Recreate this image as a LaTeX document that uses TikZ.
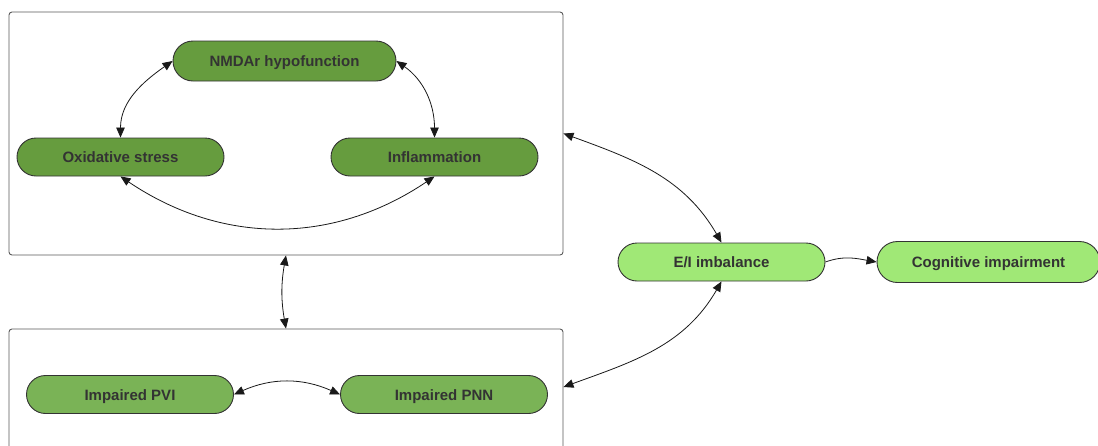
\documentclass[tikz,border=0pt]{standalone}
\usepackage{fontspec}
\setmainfont{Liberation Sans}
\usetikzlibrary{arrows.meta,shapes.misc}

\definecolor{darkleaf}{HTML}{669C3E}
\definecolor{midleaf}{HTML}{7AB356}
\definecolor{lightleaf}{HTML}{A0E876}
\definecolor{inktext}{HTML}{333333}

\begin{document}
\begin{tikzpicture}[x=1pt, y=1pt]
  \useasboundingbox (0, 0) rectangle (1098, -445);
  \clip (0, 0) rectangle (1098, -445);  % Rahmen unten abschneiden.

  \tikzstyle{pill}=[rounded rectangle, draw=inktext, line width=0.9pt, minimum width=207pt, minimum height=38pt,
                    inner sep=0pt, text height=11pt, text depth=0pt, text=inktext, font=\fontsize{15}{18}\selectfont\bfseries]
  \tikzstyle{dark}=[fill=darkleaf]
  \tikzstyle{mid}=[fill=midleaf]
  \tikzstyle{light}=[fill=lightleaf]
  \tikzstyle{panel}=[draw=black!65, line width=0.9pt, rounded corners=3pt, minimum width=554pt, inner sep=0pt]
  \tikzstyle{link}=[draw=black!90, line width=0.8pt, {Triangle[length=10pt,width=8.5pt]}-{Triangle[length=10pt,width=8.5pt]}]

  \node[panel, minimum height=243pt] (upper) at (286, -133.5) {};
  \node[panel, minimum height=132pt] (lower) at (286, -395) {};

  \node[pill, dark, minimum width=223pt, minimum height=40pt] (nmda) at (284.5, -61) {NMDAr hypofunction};
  \node[pill, dark] (oxid) at (120.5, -157) {Oxidative stress};
  \node[pill, dark] (infl) at (434.5, -157) {Inflammation};
  \node[pill, mid]  (pvi)  at (130, -394.5) {Impaired PVI};
  \node[pill, mid]  (pnn)  at (444, -394.5) {Impaired PNN};
  \node[pill, light] (ei)  at (721.5, -262) {E/I imbalance};
  \node[pill, light, minimum width=223pt, minimum height=41pt] (cog) at (988.5, -262) {Cognitive impairment};

  \path[link] (oxid.north) to[out=90, in=215] (nmda.west);
  \path[link] (nmda.east) to[out=-35, in=90] (infl.north);
  \path[link] (oxid.south) to[out=-34, in=-146] (infl.south);
  \path[link] (pvi.east) to[out=24, in=156] (pnn.west);
  \path[link] (upper.south) to[out=-100, in=100] (lower.north);
  \path[link] (upper.east) to[out=-20, in=120] (ei.north);
  \path[link] (ei.south) to[out=-120, in=20] ([yshift=8pt]lower.east);
  \path[link, {-Triangle[length=10pt,width=8.5pt]}] (ei.east) to[out=20, in=170] (cog.west);
\end{tikzpicture}
\end{document}
